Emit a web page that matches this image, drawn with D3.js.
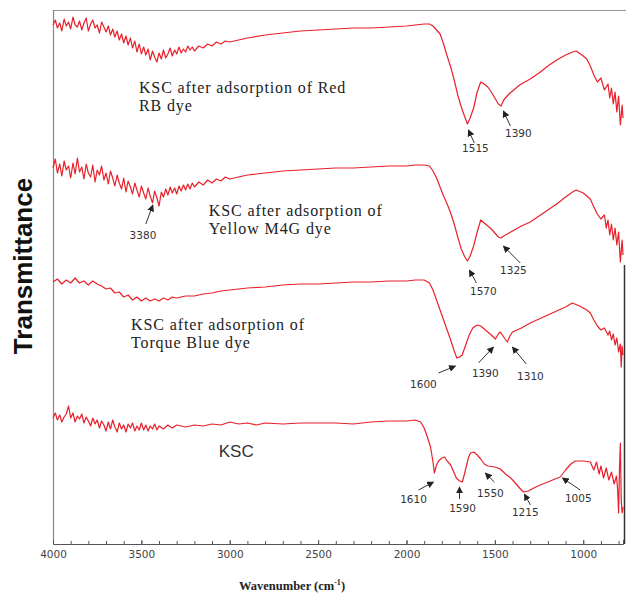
<!DOCTYPE html>
<html lang="en">
<head>
  <meta charset="UTF-8" />
  <title>FTIR spectra - KSC</title>
  <script src="https://d3js.org/d3.v7.min.js"></script>
  <style>
    body { margin: 0; background: #fff; }
    svg { display: block; background: #fff; }
    .curve { fill: none; stroke: #e8202a; stroke-width: 1.2; stroke-linejoin: round; }
    .lbl { font-family: "Liberation Serif", "Times New Roman", serif; font-size: 16px; letter-spacing: 0.9px; fill: #222; }
    .peak { font-family: "DejaVu Sans", sans-serif; font-size: 10.5px; fill: #333; }
    .axis text { font-family: "DejaVu Sans", sans-serif; font-size: 10.5px; fill: #444; }
    .axis path, .axis line { stroke: #555; }
  </style>
</head>
<body>
<svg width="626" height="598"></svg>
<script>
  // x tick labels (cm-1)
  const majorTicks = [4000, 3500, 3000, 2500, 2000, 1500, 1000];

  // spectra: [wavenumber, transmittance (arbitrary, stacked)]
  const redRB = [[4000,519],[3987,524],[3975,516],[3962,521],[3950,513],[3937,525],[3925,518],[3912,522],[3900,515],[3887,527],[3875,519],[3862,517],[3850,523],[3837,514],[3825,521],[3812,526],[3800,513],[3787,520],[3775,524],[3762,516],[3750,519],[3737,511],[3725,522],[3712,517],[3700,512],[3687,518],[3675,509],[3662,515],[3650,507],[3637,513],[3625,504],[3612,510],[3600,501],[3587,508],[3575,499],[3562,506],[3550,496],[3537,503],[3525,492],[3512,500],[3500,490],[3487,497],[3475,489],[3462,495],[3450,484],[3437,493],[3425,487],[3412,482],[3400,491],[3387,485],[3375,494],[3362,486],[3350,490],[3337,496],[3325,488],[3312,494],[3300,490],[3287,497],[3275,491],[3262,495],[3250,492],[3237,498],[3225,494],[3212,497],[3200,493],[3175,498],[3150,496],[3125,500],[3100,498],[3075,502],[3050,500],[3025,503],[3000,502],[2900,506],[2800,509],[2700,511],[2600,513],[2500,514],[2400,515],[2300,516],[2200,516],[2100,517],[2000,518],[1950,519],[1900,520],[1870,520],[1850,518],[1830,514],[1810,510],[1790,500],[1770,488],[1750,477],[1730,464],[1710,449],[1690,437],[1670,427],[1655,420],[1640,426],[1620,436],[1600,452],[1580,462],[1560,460],[1540,457],[1520,452],[1500,446],[1480,440],[1465,438],[1450,444],[1420,450],[1400,453],[1380,456],[1360,459],[1340,461],[1300,465],[1250,471],[1200,478],[1150,484],[1100,489],[1060,492],[1040,493],[1000,488],[980,485],[960,478],[940,469],[920,462],[900,466],[880,454],[860,460],[850,446],[840,456],[830,440],[820,452],[810,432],[800,448],[790,419],[780,439],[775,426]];

  const yellowM4G = [[4000,376],[3987,385],[3975,371],[3962,380],[3950,368],[3937,383],[3925,374],[3912,378],[3900,366],[3887,381],[3875,370],[3862,386],[3850,372],[3837,377],[3825,365],[3812,380],[3800,371],[3787,367],[3775,379],[3762,362],[3750,374],[3737,369],[3725,378],[3712,364],[3700,371],[3687,360],[3675,373],[3662,366],[3650,358],[3637,369],[3625,361],[3612,355],[3600,366],[3587,352],[3575,363],[3562,357],[3550,350],[3537,361],[3525,354],[3512,347],[3500,358],[3487,351],[3475,345],[3462,356],[3450,348],[3437,341],[3425,353],[3412,346],[3400,338],[3387,352],[3375,347],[3362,355],[3350,349],[3337,357],[3325,351],[3312,356],[3300,350],[3287,358],[3275,353],[3262,359],[3250,354],[3237,360],[3225,355],[3212,361],[3200,357],[3175,362],[3150,359],[3125,364],[3100,361],[3075,365],[3050,363],[3025,367],[3000,365],[2900,369],[2800,371],[2700,373],[2600,374],[2500,375],[2400,376],[2300,376],[2200,377],[2100,378],[2000,378],[1950,379],[1900,379],[1870,378],[1850,373],[1830,366],[1810,357],[1790,348],[1770,340],[1750,331],[1730,320],[1710,307],[1690,295],[1670,287],[1655,283],[1640,288],[1620,298],[1600,312],[1580,324],[1560,321],[1540,318],[1520,315],[1500,311],[1480,307],[1465,306],[1450,308],[1420,311],[1400,313],[1380,315],[1350,318],[1300,322],[1250,328],[1200,334],[1150,340],[1100,347],[1060,352],[1040,354],[1000,351],[980,348],[960,345],[940,337],[920,330],[900,325],[880,329],[870,316],[860,324],[850,309],[840,320],[830,304],[820,316],[810,299],[800,312],[790,282],[780,304],[775,289]];

  const torqueBlue = [[4000,262],[3975,265],[3950,260],[3925,264],[3900,261],[3875,266],[3850,261],[3825,263],[3800,259],[3775,263],[3750,260],[3725,258],[3700,255],[3675,256],[3650,251],[3625,252],[3600,247],[3575,249],[3550,244],[3525,247],[3500,243],[3475,246],[3450,243],[3425,245],[3400,243],[3375,246],[3350,244],[3325,247],[3300,246],[3250,248],[3200,248],[3150,250],[3100,251],[3050,253],[3000,254],[2900,256],[2800,257],[2700,259],[2600,260],[2500,260],[2400,261],[2300,262],[2200,262],[2100,263],[2000,263],[1950,264],[1900,264],[1870,261],[1850,254],[1830,244],[1810,234],[1790,224],[1770,214],[1750,204],[1730,193],[1715,186],[1700,187],[1685,189],[1665,199],[1645,209],[1625,216],[1600,219],[1580,218],[1560,215],[1540,212],[1520,209],[1497,205],[1480,210],[1469,212],[1450,207],[1429,202],[1415,208],[1400,212],[1350,216],[1300,221],[1250,225],[1200,229],[1150,233],[1100,237],[1062,241],[1020,238],[980,234],[960,231],[940,224],[920,218],[900,214],[880,216],[860,209],[850,213],[840,204],[830,210],[820,199],[810,206],[800,192],[790,200],[785,177],[780,198],[775,189]];

  const ksc = [[4000,126],[3987,131],[3975,124],[3962,129],[3950,122],[3937,127],[3925,130],[3912,138],[3900,126],[3887,131],[3875,122],[3862,128],[3850,125],[3837,130],[3825,121],[3812,127],[3800,123],[3787,118],[3775,126],[3762,120],[3750,124],[3737,116],[3725,123],[3712,119],[3700,113],[3687,122],[3675,115],[3662,124],[3650,117],[3637,112],[3625,121],[3612,115],[3600,119],[3587,112],[3575,120],[3562,116],[3550,121],[3537,113],[3525,118],[3512,114],[3500,121],[3487,114],[3475,119],[3462,113],[3450,118],[3437,115],[3425,120],[3412,114],[3400,118],[3375,115],[3350,119],[3325,116],[3300,119],[3250,117],[3200,119],[3150,118],[3100,120],[3050,119],[3000,122],[2950,120],[2900,121],[2850,119],[2800,121],[2700,120],[2600,121],[2500,121],[2400,121],[2300,120],[2200,122],[2100,123],[2000,123],[1950,124],[1920,122],[1900,116],[1880,106],[1864,97],[1850,82],[1842,71],[1830,79],[1819,83],[1800,86],[1785,87],[1770,83],[1750,79],[1735,73],[1718,66],[1700,63],[1684,62],[1672,70],[1661,78],[1650,86],[1638,91],[1620,92],[1600,89],[1580,85],[1560,80],[1540,78],[1500,77],[1469,75],[1440,70],[1410,66],[1384,61],[1360,56],[1339,52],[1310,53],[1280,56],[1243,59],[1200,62],[1160,65],[1130,67],[1100,74],[1070,80],[1045,83],[1000,83],[960,82],[940,74],[925,82],[910,70],[900,78],[885,66],[870,76],[855,64],[840,72],[825,60],[812,68],[805,54],[800,31],[795,74],[790,101],[785,44],[780,31],[775,37]];

  // sample labels: [lines, wavenumber, value of first baseline]
  const sampleLabels = [
    [["KSC after adsorption of Red", "RB dye"], 3514, 451],
    [["KSC after adsorption of", "Yellow M4G dye"], 3119, 328],
    [["KSC after adsorption of", "Torque Blue dye"], 3559, 214]
  ];

  // peak labels: text, head [w, v], tail [w, v], text [w, v]
  const peakLabels = [
    ["1515", [1650,414], [1616,401], [1610,392]],
    ["1390", [1452,433], [1412,418], [1367,407]],
    ["3380", [3435,339], [3475,320], [3491,305]],
    ["1570", [1644,274], [1604,261], [1565,249]],
    ["1325", [1452,298], [1356,281], [1395,270]],
    ["1600", [1723,178], [1819,171], [1904,156]],
    ["1390", [1508,197], [1593,181], [1554,167]],
    ["1310", [1401,197], [1322,180], [1299,164]],
    ["1610", [1847,62], [1932,54], [1960,41]],
    ["1590", [1700,57], [1700,45], [1683,32]],
    ["1550", [1554,71], [1503,62], [1525,47]],
    ["1215", [1333,50], [1299,39], [1328,28]],
    ["1005", [1118,66], [1017,54], [1028,42]]
  ];

  const svg = d3.select("svg");
  const x = d3.scaleLinear().domain([4000, 775]).range([53, 623]);
  const y = d3.scaleLinear().domain([0, 534]).range([544, 10]);

  // frame
  svg.append("line").attr("x1", 53.5).attr("x2", 626).attr("y1", 10.5).attr("y2", 10.5)
     .attr("stroke", "#999").attr("stroke-width", 1.2);
  svg.append("line").attr("x1", 53.5).attr("x2", 53.5).attr("y1", 10).attr("y2", 544)
     .attr("stroke", "#888").attr("stroke-width", 1.2);
  svg.append("line").attr("x1", 624.5).attr("x2", 624.5).attr("y1", 265).attr("y2", 544)
     .attr("stroke", "#333").attr("stroke-width", 1.5);

  // axes
  svg.append("g").attr("class", "axis")
     .attr("transform", "translate(0,544)")
     .call(d3.axisBottom(x).tickValues(d3.range(800, 4001, 100)).tickSize(-3).tickFormat(""))
     .call(g => g.select(".domain").remove());
  svg.append("g").attr("class", "axis")
     .attr("transform", "translate(0,544)")
     .call(d3.axisBottom(x).tickValues(majorTicks).tickSize(-4).tickPadding(7).tickFormat(d3.format("d")));

  // spectra
  const line = d3.line().x(d => x(d[0])).y(d => y(d[1]));
  [redRB, yellowM4G, torqueBlue, ksc].forEach(s => {
    svg.append("path").attr("class", "curve").attr("d", line(s));
  });

  // sample labels
  sampleLabels.forEach(d => {
    const t = svg.append("text").attr("class", "lbl").attr("x", x(d[1])).attr("y", y(d[2]));
    d[0].forEach((s, i) => {
      t.append("tspan").attr("x", x(d[1])).attr("dy", i ? 18 : 0).text(s);
    });
  });
  svg.append("text")
     .attr("x", x(3062)).attr("y", y(87))
     .attr("font-family", "'Liberation Sans', Arial, sans-serif").attr("font-size", 17).attr("fill", "#333")
     .text("KSC");

  // arrows
  svg.append("defs").append("marker")
     .attr("id", "ah").attr("viewBox", "0 0 10 10").attr("refX", 9).attr("refY", 5)
     .attr("markerWidth", 7).attr("markerHeight", 7).attr("markerUnits", "userSpaceOnUse")
     .attr("orient", "auto")
     .append("path").attr("d", "M0,0L10,5L0,10z").attr("fill", "#222");

  peakLabels.forEach(d => {
    svg.append("line")
       .attr("x1", x(d[2][0])).attr("y1", y(d[2][1]))
       .attr("x2", x(d[1][0])).attr("y2", y(d[1][1]))
       .attr("stroke", "#333").attr("stroke-width", 1)
       .attr("marker-end", "url(#ah)");
    svg.append("text").attr("class", "peak")
       .attr("x", x(d[3][0])).attr("y", y(d[3][1]))
       .attr("text-anchor", "middle").text(d[0]);
  });

  // axis titles
  const xt = svg.append("text")
     .attr("x", 292).attr("y", 590).attr("text-anchor", "middle")
     .attr("font-family", "'Liberation Serif', 'Times New Roman', serif")
     .attr("font-size", 12.5).attr("font-weight", "bold").attr("fill", "#222");
  xt.append("tspan").text("Wavenumber (cm");
  xt.append("tspan").attr("font-size", 8).attr("dy", -5).text("-1");
  xt.append("tspan").attr("dy", 5).text(")");

  svg.append("text")
     .attr("transform", "translate(32,266) rotate(-90)")
     .attr("text-anchor", "middle")
     .attr("font-family", "'Liberation Sans', Arial, sans-serif")
     .attr("font-size", 26).attr("font-weight", "bold").attr("fill", "#111")
     .text("Transmittance");
</script>
</body>
</html>
